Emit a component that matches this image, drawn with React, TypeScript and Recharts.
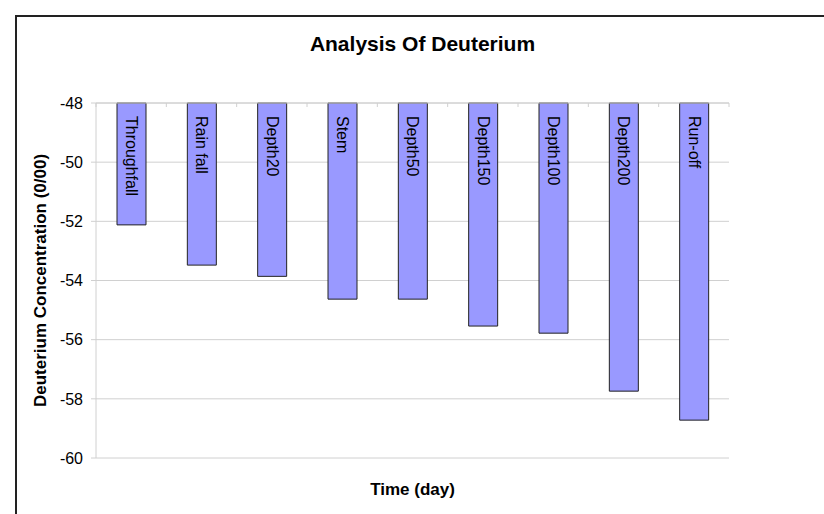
import React from 'react';
import { BarChart, Bar, XAxis, YAxis, CartesianGrid, LabelList } from 'recharts';

const categories = ['Throughfall', 'Rain fall', 'Depth20', 'Stem', 'Depth50', 'Depth150', 'Depth100', 'Depth200', 'Run-off'];
const deuterium = [-52.12, -53.48, -53.86, -54.63, -54.63, -55.54, -55.78, -57.74, -58.72];
const yTicks = [-60, -58, -56, -54, -52, -50, -48];
const boundaryTicks = [0, 1, 2, 3, 4, 5, 6, 7, 8, 9];

const data = categories.map((name, i) => ({ name, value: deuterium[i], slot: i + 0.5 }));

const FONT = '"Liberation Sans", Arial, sans-serif';

const BarLabel = (props: any) => {
  const { x, y, width, height, value } = props;
  const top = Math.min(Number(y), Number(y) + Number(height));
  const cx = Number(x) + Number(width) / 2;
  const ty = top + 13;
  return (
    <text
      x={cx}
      y={ty}
      transform={`rotate(90, ${cx}, ${ty})`}
      textAnchor="start"
      dominantBaseline="central"
      fontFamily={FONT}
      fontSize={16}
      fill="#000"
    >
      {value}
    </text>
  );
};

export default function App() {
  return (
    <div style={{ position: 'absolute', left: 0, top: 0, width: 824, height: 514, background: '#fff', overflow: 'hidden' }}>
      <div
        style={{
          position: 'absolute',
          left: 15,
          top: 15,
          width: 840,
          height: 540,
          borderLeft: '2px solid #222',
          borderTop: '2px solid #222',
        }}
      />
      <div
        style={{
          position: 'absolute',
          left: 0,
          width: 845,
          top: 30,
          textAlign: 'center',
          fontFamily: FONT,
          fontWeight: 'bold',
          fontSize: 21,
          lineHeight: '28px',
        }}
      >
        Analysis Of Deuterium
      </div>
      <div style={{ position: 'absolute', left: 0, top: 0 }}>
        <BarChart
          width={824}
          height={514}
          data={data}
          margin={{ top: 103, right: 95, bottom: 0, left: 0 }}
        >
          <CartesianGrid horizontal={true} vertical={false} stroke="#d0d0d0" strokeWidth={1} />
          <XAxis
            dataKey="name"
            orientation="bottom"
            height={56}
            axisLine={false}
            tickLine={false}
            tick={false}
            label={{
              value: 'Time (day)',
              position: 'insideTop',
              offset: 25,
              style: { fontFamily: FONT, fontWeight: 'bold', fontSize: 17, fill: '#000' },
            }}
          />
          <XAxis
            xAxisId="bounds"
            dataKey="slot"
            type="number"
            orientation="top"
            domain={[0, 9]}
            allowDataOverflow={true}
            ticks={boundaryTicks}
            interval={0}
            mirror
            tickSize={4}
            tickFormatter={() => ''}
            axisLine={{ stroke: '#d0d0d0' }}
            tickLine={{ stroke: '#d0d0d0' }}
          />
          <YAxis
            width={96}
            domain={[-60, -48]}
            ticks={yTicks}
            interval={0}
            tickSize={5}
            tickMargin={8}
            axisLine={{ stroke: '#d0d0d0' }}
            tickLine={{ stroke: '#d0d0d0' }}
            tick={{ fontFamily: FONT, fontSize: 16, fill: '#000' }}
            label={{
              value: 'Deuterium Concentration (0/00)',
              angle: -90,
              position: 'insideLeft',
              offset: 40,
              style: { fontFamily: FONT, fontWeight: 'bold', fontSize: 17, fill: '#000', textAnchor: 'middle' },
            }}
          />
          <Bar dataKey="value" fill="#9999ff" stroke="#222" strokeWidth={1} barSize={29} isAnimationActive={false}>
            <LabelList dataKey="name" content={<BarLabel />} />
          </Bar>
        </BarChart>
      </div>
    </div>
  );
}
